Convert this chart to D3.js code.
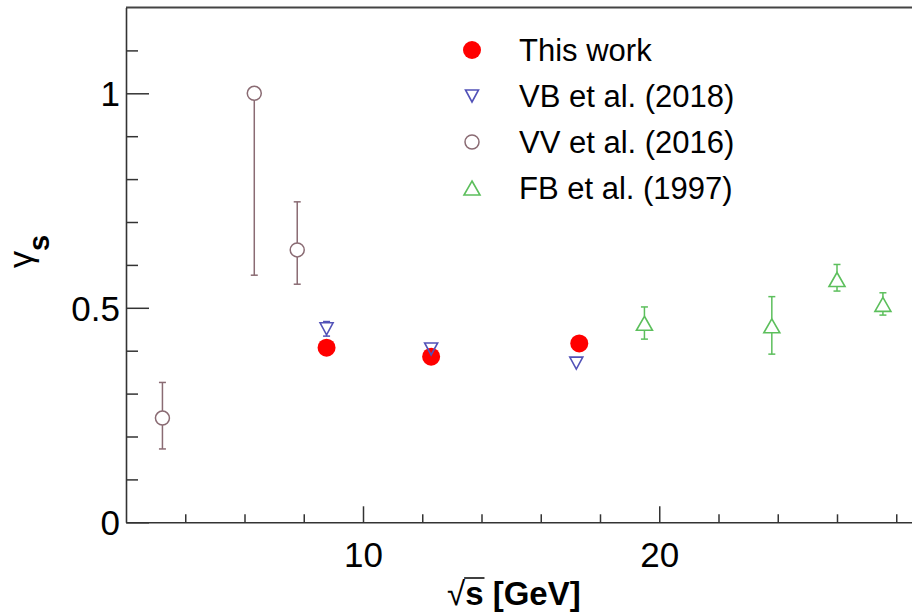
<!DOCTYPE html>
<html>
<head>
<meta charset="utf-8">
<script src="https://cdn.jsdelivr.net/npm/d3@7"></script>
<style>
body { margin: 0; background: #fff; }
text { font-family: "Liberation Sans", Arial, Helvetica, sans-serif; fill: #000; }
</style>
</head>
<body>
<svg class="chart"></svg>
<script>
// values: gamma_s vs sqrt(s)
var thisWorkX = [8.77, 12.3, 17.3];
var thisWorkY = [0.407, 0.386, 0.417];

var vbX = [8.77, 12.3, 17.2];
var vbY = [0.451, 0.404, 0.371];
var vbErr = [0.017, 0.012, 0];

var vvX = [3.23, 6.33, 7.78];
var vvY = [0.243, 1.0, 0.635];
var vvErrLo = [0.072, 0.424, 0.08];
var vvErrHi = [0.083, 0, 0.112];

var fbX = [19.5, 23.8, 26.0, 27.55];
var fbY = [0.464, 0.458, 0.566, 0.508];
var fbErrLo = [0.037, 0.066, 0.027, 0.025];
var fbErrHi = [0.038, 0.068, 0.035, 0.027];

var xMajorTicks = [10, 20];
var xMinorTicks = [4, 6, 8, 12, 14, 16, 18, 22, 24, 26, 28];
var yMajorTicks = [0, 0.5, 1];
var yMinorTicks = [0.1, 0.2, 0.3, 0.4, 0.6, 0.7, 0.8, 0.9, 1.1];

var legendLabels = ["This work", "VB et al. (2018)", "VV et al. (2016)", "FB et al. (1997)"];

var width = 912, height = 613;
var frame = {left: 126, top: 7.5, right: 955.5, bottom: 522.3};

var svg = d3.select(".chart")
    .attr("width", width)
    .attr("height", height);

var x = d3.scaleLinear()
    .domain([2, 30])
    .range([frame.left, frame.right]);
var y = d3.scaleLinear()
    .domain([0, 1.2])
    .range([frame.bottom, frame.top]);

function triPath(w, h, down) {
    if (down) {
        return "M" + (-w / 2) + "," + (-h / 2) + "L" + (w / 2) + "," + (-h / 2) + "L0," + (h / 2) + "Z";
    }
    return "M0," + (-h / 2) + "L" + (w / 2) + "," + (h / 2) + "L" + (-w / 2) + "," + (h / 2) + "Z";
}

var styles = {
    work: {color: "#ff0000", shape: "dot", r: 9, half: 9},
    vb: {color: "#5252b8", shape: "down", w: 13, h: 12, half: 6},
    vv: {color: "#8a6b73", shape: "circle", r: 7, half: 7},
    fb: {color: "#5cbf5c", shape: "up", w: 16, h: 14, half: 7}
};

function drawMarker(g, st, cx, cy) {
    if (st.shape == "dot") {
        g.append("circle").attr("cx", cx).attr("cy", cy).attr("r", st.r)
            .attr("fill", st.color);
    } else if (st.shape == "circle") {
        g.append("circle").attr("cx", cx).attr("cy", cy).attr("r", st.r)
            .attr("fill", "none").attr("stroke", st.color).attr("stroke-width", 1.5);
    } else {
        g.append("path").attr("d", triPath(st.w, st.h, st.shape == "down"))
            .attr("transform", "translate(" + cx + "," + cy + ")")
            .attr("fill", "none").attr("stroke", st.color)
            .attr("stroke-width", 1.6).attr("stroke-linejoin", "miter");
    }
}

function drawSeries(xs, ys, errLo, errHi, st) {
    var g = svg.append("g");
    for (i = 0; i < xs.length; i++) {
        var cx = x(xs[i]), cy = y(ys[i]);
        var lo = errLo ? y(ys[i] - errLo[i]) : cy;
        var hi = errHi ? y(ys[i] + errHi[i]) : cy;
        if (lo - cy > st.half) {
            g.append("line").attr("x1", cx).attr("x2", cx)
                .attr("y1", cy + st.half).attr("y2", lo)
                .attr("stroke", st.color).attr("stroke-width", 1.5);
            g.append("line").attr("x1", cx - 3.5).attr("x2", cx + 3.5)
                .attr("y1", lo).attr("y2", lo)
                .attr("stroke", st.color).attr("stroke-width", 1.5);
        }
        if (cy - hi > st.half) {
            g.append("line").attr("x1", cx).attr("x2", cx)
                .attr("y1", cy - st.half).attr("y2", hi)
                .attr("stroke", st.color).attr("stroke-width", 1.5);
            g.append("line").attr("x1", cx - 3.5).attr("x2", cx + 3.5)
                .attr("y1", hi).attr("y2", hi)
                .attr("stroke", st.color).attr("stroke-width", 1.5);
        }
        drawMarker(g, st, cx, cy);
    }
}

// frame top line
svg.append("line")
    .attr("x1", frame.left).attr("x2", frame.right)
    .attr("y1", frame.top).attr("y2", frame.top)
    .attr("stroke", "#444").attr("stroke-width", 2);

// x axis, ticks point inwards
var xAxis = svg.append("g")
    .attr("transform", "translate(0," + frame.bottom + ")")
    .call(d3.axisBottom(x).tickValues(xMajorTicks).tickSizeInner(-16).tickSizeOuter(0).tickPadding(0));
xAxis.selectAll(".tick text")
    .attr("y", 20).attr("dy", "0.71em")
    .style("font-size", "35px");
svg.append("g")
    .attr("transform", "translate(0," + frame.bottom + ")")
    .call(d3.axisBottom(x).tickValues(xMinorTicks).tickSizeInner(-8).tickSizeOuter(0).tickFormat(""))
    .select(".domain").remove();

var yAxis = svg.append("g")
    .attr("transform", "translate(" + frame.left + ",0)")
    .call(d3.axisLeft(y).tickValues(yMajorTicks).tickSizeInner(-23).tickSizeOuter(0)
        .tickPadding(6).tickFormat(function(d) { return d; }));
yAxis.selectAll(".tick text")
    .attr("dy", "0.36em")
    .style("font-size", "35px");
svg.append("g")
    .attr("transform", "translate(" + frame.left + ",0)")
    .call(d3.axisLeft(y).tickValues(yMinorTicks).tickSizeInner(-12).tickSizeOuter(0).tickFormat(""))
    .select(".domain").remove();

svg.selectAll(".domain").attr("stroke", "#333").attr("stroke-width", 1.6);
svg.selectAll(".tick line").attr("stroke", "#333").attr("stroke-width", 1.5);

// axis titles
var xTitle = svg.append("text")
    .attr("x", 447).attr("y", 605)
    .style("font-size", "33px").style("font-weight", "bold");
xTitle.append("tspan").text("√").style("font-weight", "normal");
xTitle.append("tspan").text("s");
xTitle.append("tspan").text(" [GeV]");
var sBox = xTitle.node().getExtentOfChar(1);
svg.append("line")
    .attr("x1", sBox.x - 1).attr("x2", sBox.x + sBox.width + 1)
    .attr("y1", sBox.y + 3).attr("y2", sBox.y + 3)
    .attr("stroke", "#000").attr("stroke-width", 1.5);

var yTitle = svg.append("text")
    .attr("transform", "translate(32,268) rotate(-90)");
yTitle.append("tspan").text("γ").style("font-size", "34px");
yTitle.append("tspan").text("s").attr("dy", 17)
    .style("font-size", "29px").style("font-weight", "bold");

// data
drawSeries(thisWorkX, thisWorkY, null, null, styles.work);
drawSeries(vbX, vbY, vbErr, vbErr, styles.vb);
drawSeries(vvX, vvY, vvErrLo, vvErrHi, styles.vv);
drawSeries(fbX, fbY, fbErrLo, fbErrHi, styles.fb);

// legend
var legendStyles = [styles.work, styles.vb, styles.vv, styles.fb];
var legend = svg.append("g");
for (i = 0; i < legendLabels.length; i++) {
    var ly = 50 + i * 46;
    drawMarker(legend, legendStyles[i], 472, ly);
    legend.append("text")
        .attr("x", 519).attr("y", ly)
        .attr("dy", "0.36em")
        .style("font-size", "31px")
        .text(legendLabels[i]);
}
</script>
</body>
</html>
